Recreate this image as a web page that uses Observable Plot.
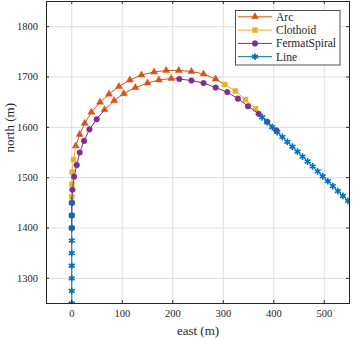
<!DOCTYPE html>
<html><head><meta charset="utf-8">
<script src="https://cdn.jsdelivr.net/npm/d3@7"></script>
<script src="https://cdn.jsdelivr.net/npm/@observablehq/plot@0.6"></script>
<style>
body{margin:0;background:#fff;}
#wrap{position:relative;width:353px;height:339px;}
#legend{position:absolute;left:235px;top:10px;}
</style></head><body><div id="wrap"></div>
<script>
const seriesNames = ["Arc","Clothoid","FermatSpiral","Line"];
const seriesColors = ["#D95319","#EDB120","#7E2F8E","#0072BD"];
const seriesSymbols = ["triangle","square","circle","asterisk"];
const xTicks = [0,100,200,300,400,500];
const yTicks = [1300,1400,1500,1600,1700,1800];

// Line segments
const lineVertEast  = [0,0,0,0,0,0,0,0,0];
const lineVertNorth = [1250,1275,1300,1325,1350,1375,1400,1425,1450];
const lineDiagEast  = [377,387,397,407,417,427,437,447,457,467,477,487,497,507,517,527,537,547,557];
const lineDiagNorth = [1620,1610.2,1600.5,1590.7,1580.9,1571.2,1561.4,1551.6,1541.8,1532.1,1522.3,1512.5,1502.8,1493,1483.2,1473.4,1463.7,1453.9,1444.1];
// Clothoid segments
const clothoidInEast   = [0,0.3,0.6,3.4];
const clothoidInNorth  = [1462,1487,1511,1536];
const clothoidOutEast  = [303,324,344,364];
const clothoidOutNorth = [1685,1672,1655,1637];
// Arc segments
const arcOuterEast  = [7.9,15.8,25.7,38.9,56,73.8,93.5,115,138,163,187,212,237,261,285];
const arcOuterNorth = [1563,1586,1608,1630,1650,1666,1681,1694,1704,1710,1713,1713,1711,1706,1696];
const arcInnerEast  = [65,84,103,126,150,172.5,197];
const arcInnerNorth = [1635,1653,1667,1679,1688,1694,1697];
// Fermat spiral segments
const fermatInEast   = [0,0,0.3,1.3,4.6,9.9,15.8,24.4,35,49.4];
const fermatInNorth  = [1400,1425,1450,1476,1502,1525,1550,1573,1596,1616];
const fermatOutEast  = [213,237,261,285,308,329,349,370,387,405];
const fermatOutNorth = [1696,1693,1688,1679,1670,1657,1642,1627,1611,1594];

const seg = (series, id, xs, ys) => ({series, id, pts: xs.map((x,i)=>({east:x, north:ys[i]}))});
const routes = [
  [seg("Line","lv",lineVertEast,lineVertNorth), seg("Clothoid","ci",clothoidInEast,clothoidInNorth),
   seg("Arc","ao",arcOuterEast,arcOuterNorth), seg("Clothoid","co",clothoidOutEast,clothoidOutNorth),
   seg("Line","ld",lineDiagEast,lineDiagNorth)],
  [seg("FermatSpiral","fi",fermatInEast,fermatInNorth), seg("Arc","ai",arcInnerEast,arcInnerNorth),
   seg("FermatSpiral","fo",fermatOutEast,fermatOutNorth)]
];
const lineRows = [], dotRows = [];
for (const r of routes) r.forEach((s, i) => {
  const pts = s.pts.slice();
  if (i + 1 < r.length) pts.push(r[i+1].pts[0]);
  pts.forEach(p => lineRows.push({series:s.series, seg:s.id, ...p}));
  s.pts.forEach(p => dotRows.push({series:s.series, ...p}));
});
const radius = {triangle:2.6, square:2.8, circle:2.8, asterisk:3.2};
const serif = "Liberation Serif";

const marks = [
  Plot.gridX(xTicks, {stroke:"#dedede", strokeOpacity:1}),
  Plot.gridY(yTicks, {stroke:"#dedede", strokeOpacity:1})
];
seriesNames.forEach((name, k) => {
  const c = seriesColors[k], sym = seriesSymbols[k];
  marks.push(Plot.line(lineRows.filter(d=>d.series===name), {x:"east", y:"north", z:"seg", stroke:c, strokeWidth:1, clip:true}));
  marks.push(Plot.dot(dotRows.filter(d=>d.series===name), sym === "asterisk"
    ? {x:"east", y:"north", symbol:sym, r:radius[sym], stroke:c, strokeWidth:1.6, clip:true}
    : {x:"east", y:"north", symbol:sym, r:radius[sym], fill:c, stroke:c, strokeWidth:0.5, clip:true}));
});
marks.push(
  Plot.frame({stroke:"#262626", strokeWidth:1}),
  Plot.tickX(xTicks, {x:d=>d, insetTop:299, stroke:"#262626"}),
  Plot.tickX(xTicks, {x:d=>d, insetBottom:299, stroke:"#262626"}),
  Plot.tickY(yTicks, {y:d=>d, insetLeft:300, stroke:"#262626"}),
  Plot.tickY(yTicks, {y:d=>d, insetRight:300, stroke:"#262626"}),
  Plot.axisX(xTicks, {tickSize:0, tickPadding:6, label:null, fill:"#262626", fontFamily:serif, fontSize:10.5, tickFormat:d3.format("d")}),
  Plot.axisY(yTicks, {tickSize:0, tickPadding:8.5, label:null, fill:"#262626", fontFamily:serif, fontSize:10.5, tickFormat:d3.format("d")}),
  Plot.text(["east (m)"], {frameAnchor:"bottom", dy:27, fontSize:13, fontFamily:serif, fill:"#262626", lineAnchor:"middle"}),
  Plot.text(["north (m)"], {frameAnchor:"left", dx:-37, rotate:-90, fontSize:13, fontFamily:serif, fill:"#262626", lineAnchor:"middle"})
);

const chart = Plot.plot({
  width:353, height:339, marginLeft:46, marginRight:4, marginTop:1, marginBottom:36,
  x:{domain:[-50,550]}, y:{domain:[1250,1850]},
  style:{fontFamily:serif, fontSize:"10.5px", background:"#fff", color:"#262626"},
  marks
});
const wrap = document.getElementById("wrap");
wrap.appendChild(chart);

// legend
const lg = d3.create("svg").attr("id","legend").attr("width",106).attr("height",56);
lg.append("rect").attr("x",0.5).attr("y",0.5).attr("width",104.5).attr("height",54.5).attr("fill","#fff").attr("stroke","#262626").attr("stroke-width",0.8);
const symTypes = {triangle:d3.symbolTriangle, square:d3.symbolSquare, circle:d3.symbolCircle, asterisk:d3.symbolAsterisk};
seriesNames.forEach((name,k)=>{
  const y = 6.8 + k*13.3, c = seriesColors[k], sym = seriesSymbols[k];
  lg.append("line").attr("x1",3).attr("x2",37).attr("y1",y).attr("y2",y).attr("stroke",c).attr("stroke-width",1);
  const r = radius[sym];
  lg.append("path").attr("transform",`translate(20,${y})`).attr("d", d3.symbol(symTypes[sym], Math.PI*r*r)())
    .attr("fill", sym==="asterisk" ? "none" : c).attr("stroke", c).attr("stroke-width", sym==="asterisk"?1.6:0.5);
  lg.append("text").attr("x",41).attr("y",y).attr("dy","0.35em").attr("font-family",serif).attr("font-size","11.5px").attr("fill","#262626").text(name);
});
wrap.appendChild(lg.node());
</script></body></html>
